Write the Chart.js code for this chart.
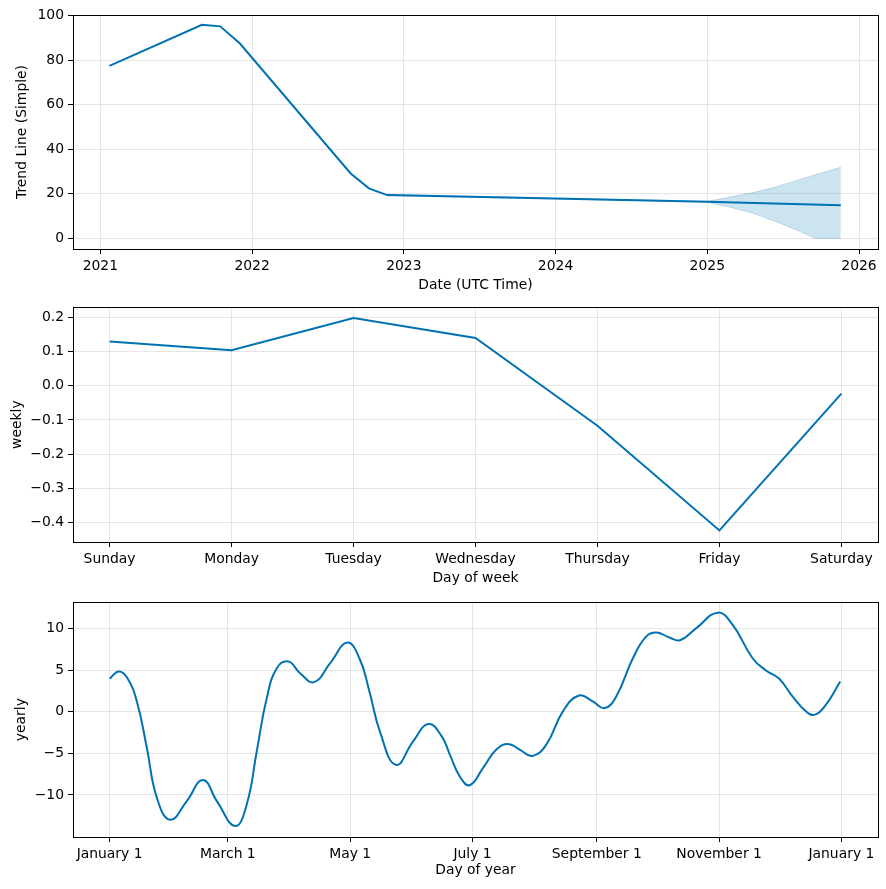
<!DOCTYPE html>
<html>
<head>
<meta charset="utf-8">
<script src="https://cdn.jsdelivr.net/npm/chart.js@4.4.1/dist/chart.umd.min.js"></script>
<style>
  html, body { margin: 0; padding: 0; background: #fff; }
  .panel { position: absolute; left: 0; width: 886px; }
</style>
</head>
<body>
<div class="panel" style="top:0;height:295px"><canvas id="trendChart"></canvas></div>
<div class="panel" style="top:295px;height:295px"><canvas id="weeklyChart"></canvas></div>
<div class="panel" style="top:590px;height:299px"><canvas id="yearlyChart"></canvas></div>
<script>
// trend (x in decimal years)
const trendYears = [2021.06, 2021.67, 2021.79, 2021.92, 2022.65, 2022.77, 2022.89, 2025.0, 2025.88];
const trendValues = [77.4, 95.8, 95.1, 87.4, 29.1, 22.4, 19.4, 16.4, 14.8];
const bandYears = [2022.89, 2024.0, 2025.0, 2025.15, 2025.3, 2025.45, 2025.6, 2025.71, 2025.88];
const bandUpper = [19.7, 18.1, 16.6, 18.5, 20.5, 23.0, 26.2, 28.5, 31.9];
const bandLower = [19.1, 17.7, 16.2, 13.9, 11.3, 7.5, 3.4, 0, 0];
const yearTicks = [2021, 2022, 2023, 2024, 2025, 2026];

// weekly
const weekDays = ['Sunday', 'Monday', 'Tuesday', 'Wednesday', 'Thursday', 'Friday', 'Saturday'];
const weeklyValues = [0.130, 0.104, 0.199, 0.140, -0.117, -0.424, -0.023];

// yearly (x = day of year)
const yearDays = [0, 4.5, 8.7, 13.6, 18.6, 23.6, 30.2, 38.5, 46.5, 53.5, 62.6, 68.4, 73.4, 78.4, 83.4, 89.2, 95, 102, 110, 118.5,
  124.6, 129.6, 134.8, 142.8, 151.4, 158.9, 165.5, 169.7, 174.6, 179.6, 186.3, 192.9, 198.7, 204.5, 210.8, 217.8, 226.1, 234.1,
  241, 246.9, 252.7, 261, 267.6, 272.9, 279.2, 284.5, 292.5, 303.3, 310.8, 320.7, 327.4, 334, 340.6, 347.3, 351.8, 357.3, 364.4];
const yearlyValues = [3.95, 4.83, 4.1, 1.23, -4.36, -10.35, -12.98, -10.74, -8.19, -10.74, -13.74, -11.14, -4.75, 1.63, 5.22, 6.02, 4.62, 3.55, 5.82, 8.3,
  6.42, 2.43, -2.36, -6.39, -3.56, -1.48, -2.9, -5.15, -7.75, -8.83, -6.75, -4.55, -3.88, -4.55, -5.32, -3.95, 0.04, 1.95,
  1.23, 0.43, 1.83, 6.42, 9.02, 9.5, 8.9, 8.58, 10.01, 11.89, 10.42, 6.42, 4.95, 3.95, 1.83, 0.04, -0.36, 0.84, 3.63];
const monthTicks = [0, 59, 120, 181, 243, 304, 365];
const monthLabels = ['January 1', 'March 1', 'May 1', 'July 1', 'September 1', 'November 1', 'January 1'];

const FONT = { family: "'DejaVu Sans', sans-serif", size: 13.9 };
const BLUE = '#0072B2';
const GRID = 'rgba(128,128,128,0.2)';

const pts = (xs, ys) => xs.map((x, i) => ({ x: x, y: ys[i] }));
const minus = s => String(s).replace('-', '\u2212');
const fixedTicks = values => scale => { scale.ticks = values.map(v => ({ value: v })); };

// black box round the plot area, like matplotlib spines
const frame = {
    id: 'frame',
    afterDraw(chart) {
        const { ctx, chartArea: a } = chart;
        ctx.save();
        ctx.strokeStyle = '#000';
        ctx.lineWidth = 1;
        ctx.strokeRect(Math.round(a.left) + 0.5, Math.round(a.top) + 0.5, Math.round(a.right - a.left), Math.round(a.bottom - a.top));
        ctx.restore();
    }
};

function xAxis(min, max, ticks, fmt, title, height, titlePad) {
    return {
        type: 'linear', min: min, max: max,
        afterBuildTicks: fixedTicks(ticks),
        afterFit: s => { s.height = height; },
        grid: { color: GRID, tickColor: '#000', tickLength: 5 },
        border: { display: false },
        ticks: { font: FONT, color: '#000', padding: 4, maxRotation: 0, autoSkip: false, callback: fmt },
        title: { display: true, text: title, font: FONT, color: '#000', padding: { top: 0, bottom: titlePad } }
    };
}

function yAxis(min, max, ticks, fmt, title, titlePad) {
    return {
        type: 'linear', min: min, max: max,
        afterBuildTicks: fixedTicks(ticks),
        afterFit: s => { s.width = 73; },
        grid: { color: GRID, tickColor: '#000', tickLength: 5 },
        border: { display: false },
        ticks: { font: FONT, color: '#000', padding: 4, autoSkip: false, callback: fmt },
        title: { display: true, text: title, font: FONT, color: '#000', padding: { top: titlePad, bottom: 0 } }
    };
}

const baseOptions = (top, scales) => ({
    responsive: true,
    maintainAspectRatio: false,
    animation: false,
    layout: { padding: { top: top, right: 8, left: 0, bottom: 0 } },
    elements: { point: { radius: 0 } },
    plugins: { legend: { display: false }, tooltip: { enabled: false } },
    scales: scales
});

const trendChart = new Chart(document.getElementById('trendChart'), {
    type: 'line',
    data: {
        datasets: [
            { data: pts(bandYears, bandUpper), fill: '+1', backgroundColor: 'rgba(0,114,178,0.2)', borderColor: 'rgba(0,114,178,0.2)', borderWidth: 1 },
            { data: pts(bandYears, bandLower), fill: false, borderColor: 'rgba(0,114,178,0.2)', borderWidth: 1 },
            { data: pts(trendYears, trendValues), fill: false, borderColor: BLUE, borderWidth: 2 },
        ]
    },
    options: baseOptions(15, {
        x: xAxis(2020.82, 2026.125, yearTicks, v => String(v), 'Date (UTC Time)', 46, 1.7),
        y: yAxis(-4.8, 100.2, [0, 20, 40, 60, 80, 100], v => String(v), 'Trend Line (Simple)', 14.4)
    }),
    plugins: [frame]
});

const weeklyChart = new Chart(document.getElementById('weeklyChart'), {
    type: 'line',
    data: {
        datasets: [{ data: pts(weekDays.map((d, i) => i), weeklyValues), fill: false, borderColor: BLUE, borderWidth: 2 }]
    },
    options: baseOptions(12, {
        x: xAxis(-0.3, 6.3, [0, 1, 2, 3, 4, 5, 6], (v, i) => weekDays[i], 'Day of week', 48, 3.4),
        y: yAxis(-0.458, 0.23, [-0.4, -0.3, -0.2, -0.1, 0, 0.1, 0.2], v => minus(v.toFixed(1)), 'weekly', 9)
    }),
    plugins: [frame]
});

const yearlyChart = new Chart(document.getElementById('yearlyChart'), {
    type: 'line',
    data: {
        datasets: [{ data: pts(yearDays, yearlyValues), fill: false, borderColor: BLUE, borderWidth: 2, tension: 0.45 }]
    },
    options: baseOptions(11, {
        x: xAxis(-18.25, 383.25, monthTicks, (v, i) => monthLabels[i], 'Day of year', 52, 10),
        y: yAxis(-15.05, 13.13, [-10, -5, 0, 5, 10], v => minus(v), 'yearly', 13.4)
    }),
    plugins: [frame]
});
</script>
</body>
</html>
